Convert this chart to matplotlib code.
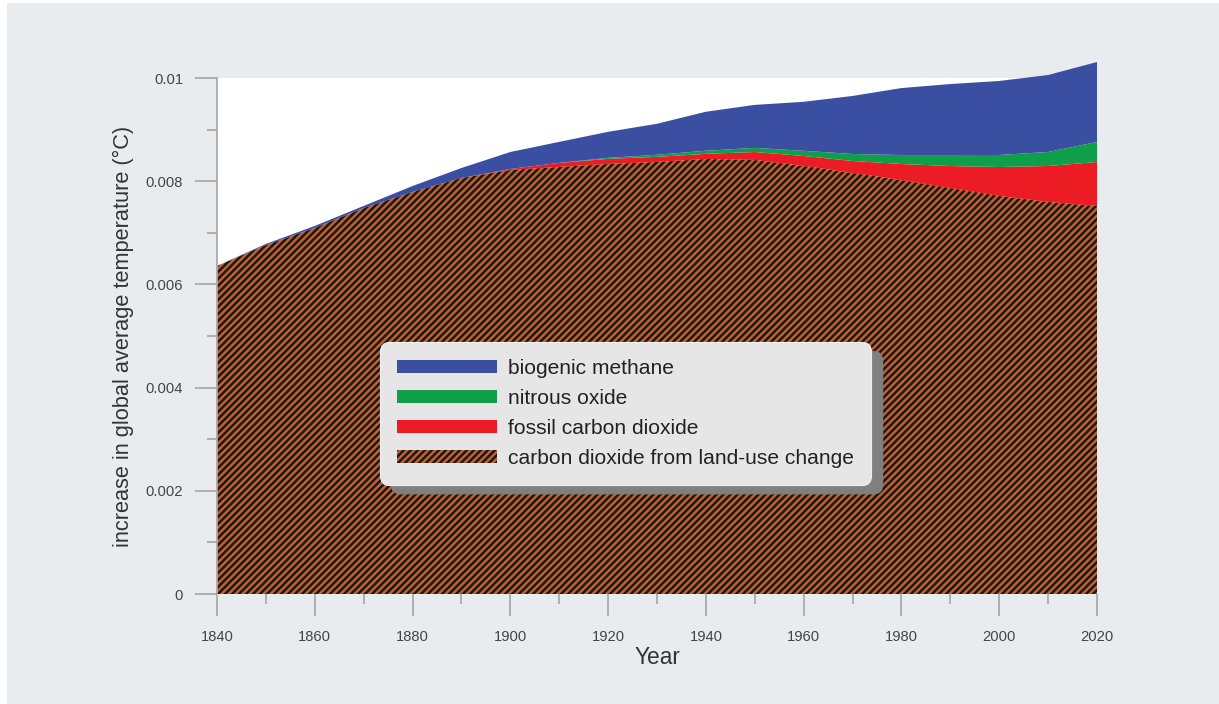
import numpy as np
import matplotlib
matplotlib.use("Agg")
import matplotlib.pyplot as plt
from matplotlib.patches import Rectangle

# data (degrees C), one value per decade
years = [1840, 1850, 1860, 1870, 1880, 1890, 1900, 1910, 1920, 1930,
         1940, 1950, 1960, 1970, 1980, 1990, 2000, 2010, 2020]
land_use = [0.006357, 0.006764, 0.007093, 0.007481, 0.007791, 0.008062, 0.008217,
            0.008275, 0.008333, 0.008372, 0.008430, 0.008411, 0.008295, 0.008159,
            0.008023, 0.007868, 0.007713, 0.007597, 0.007519]
fossil = [0, 0, 0, 0, 0, 0, 0.00002, 0.00008, 0.0001, 0.0001, 0.0001, 0.000155,
          0.000194, 0.000233, 0.00031, 0.000426, 0.000562, 0.000698, 0.000853]
nitrous = [0, 0, 0, 0, 0, 0, 0, 0, 0.00002, 0.00004, 0.00006, 0.00008, 0.0001,
           0.000136, 0.000174, 0.000213, 0.000233, 0.000271, 0.000388]
methane = [0, 0.00002, 0.00004, 0.00004, 0.000116, 0.000194, 0.000329, 0.000407,
           0.000504, 0.000601, 0.000756, 0.000833, 0.00095, 0.001124, 0.001298,
           0.001376, 0.001434, 0.001492, 0.00155]

labels = ["biogenic methane", "nitrous oxide", "fossil carbon dioxide",
          "carbon dioxide from land-use change"]
colors = ["#3b4fa2", "#0f9f48", "#ec1c24", "#c8622c"]

y_ticks = [0, 0.002, 0.004, 0.006, 0.008, 0.01]
y_ticklabels = ["0", "0.002", "0.004", "0.006", "0.008", "0.01"]
x_ticks = [1840, 1860, 1880, 1900, 1920, 1940, 1960, 1980, 2000, 2020]

DPI = 84  # hatch spacing follows dpi, '////' at 84 dpi gives ~7px stripes
plt.rcParams["font.family"] = ["Liberation Sans", "DejaVu Sans"]
plt.rcParams["hatch.color"] = "#1a1a1a"
plt.rcParams["hatch.linewidth"] = 2.2

fig = plt.figure(figsize=(1219 / DPI, 704 / DPI), dpi=DPI, facecolor="white")
# grey panel with thin white margin like the source
fig.patches.append(Rectangle((7 / 1219, 0), 1 - 7 / 1219, 1 - 3 / 704,
                             transform=fig.transFigure, facecolor="#e9ecef",
                             edgecolor="none", zorder=-10))
ax = fig.add_axes([217 / 1219, 1 - 594 / 704, 880 / 1219, 516 / 704])
ax.set_facecolor("white")

x = np.array(years)
b0 = np.zeros(len(years))
b1 = b0 + np.array(land_use)
b2 = b1 + np.array(fossil)
b3 = b2 + np.array(nitrous)
b4 = b3 + np.array(methane)

h_land = ax.fill_between(x, b0, b1, facecolor=colors[3], edgecolor="#1a1a1a",
                         linewidth=0, hatch="////", clip_on=False, zorder=1)
h_fos = ax.fill_between(x, b1, b2, facecolor=colors[2], linewidth=0, clip_on=False, zorder=1)
h_n2o = ax.fill_between(x, b2, b3, facecolor=colors[1], linewidth=0, clip_on=False, zorder=1)
h_ch4 = ax.fill_between(x, b3, b4, facecolor=colors[0], linewidth=0, clip_on=False, zorder=1)

ax.set_xlim(1840, 2020)
ax.set_ylim(0, 0.01)
ax.set_xticks(x_ticks)
ax.set_xticks(range(1850, 2020, 20), minor=True)
ax.set_yticks(y_ticks)
ax.set_yticklabels(y_ticklabels)
ax.set_yticks([0.001, 0.003, 0.005, 0.007, 0.009], minor=True)

for s in ["top", "right", "bottom"]:
    ax.spines[s].set_visible(False)
ax.spines["left"].set_color("#a8a8a8")
ax.spines["left"].set_linewidth(1.5)

ax.tick_params(which="major", length=19, width=1.5, color="#a8a8a8",
               labelsize=12.6, labelcolor="#444444", pad=10)
ax.tick_params(axis="x", which="major", pad=12)
ax.tick_params(which="minor", length=8.5, width=1.5, color="#a8a8a8")

ax.set_xlabel("Year", fontsize=19.5, color="#333333", labelpad=2)
ax.set_ylabel("increase in global average temperature (°C)", fontsize=18.6,
              color="#333333", labelpad=10)

leg = ax.legend([h_ch4, h_n2o, h_fos, h_land], labels, loc="upper left",
                bbox_to_anchor=(0.185, 0.488), borderaxespad=0, fontsize=18,
                handlelength=4.8, handleheight=0.57, handletextpad=0.52,
                borderpad=0.8, labelspacing=0.52, fancybox=True, framealpha=1,
                facecolor="#e6e6e6", edgecolor="#f0f0f0",
                shadow={"ox": 10, "oy": -8, "facecolor": "#808080",
                        "edgecolor": "#808080", "alpha": 1})
leg.get_frame().set_boxstyle("round", pad=0, rounding_size=0.45)
for t in leg.get_texts():
    t.set_color("#222222")

fig.savefig("out.png", dpi=DPI, facecolor=fig.get_facecolor())
